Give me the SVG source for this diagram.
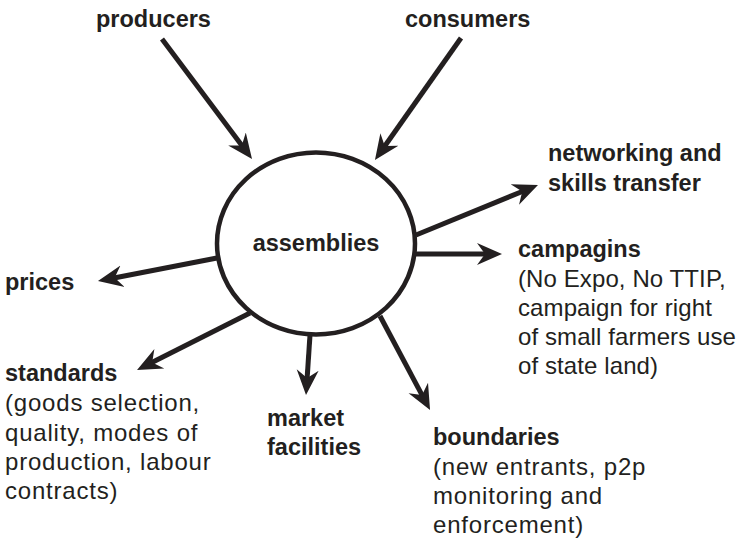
<svg xmlns="http://www.w3.org/2000/svg" width="746" height="539" viewBox="0 0 746 539">
<style>
text{font-family:"Liberation Sans",Arial,sans-serif;fill:#231f20}
.b{font-weight:bold;font-size:23.5px}
.r{font-size:24px;letter-spacing:0.8px}
.rt{letter-spacing:0.1px}
.ln{stroke:#231f20;stroke-width:5;fill:none;marker-end:url(#ah)}
</style>
<defs>
<marker id="ah" markerUnits="userSpaceOnUse" markerWidth="30" markerHeight="26" viewBox="0 -13 30 26" refX="10" refY="0" orient="auto">
<path d="M0,-11 L25,0 L0,11 L8,0 Z" fill="#231f20"/>
</marker>
</defs>
<rect width="746" height="539" fill="#fff"/>
<g id="connectors">
<line class="ln" x1="162" y1="39" x2="243" y2="147"/>
<line class="ln" x1="461" y1="38" x2="383.6" y2="147.7"/>
<line class="ln" x1="416" y1="235" x2="524.1" y2="190.7"/>
<line class="ln" x1="415" y1="254" x2="487" y2="254"/>
<line class="ln" x1="217" y1="258" x2="112.7" y2="278.2"/>
<line class="ln" x1="250" y1="313" x2="150.4" y2="363.3"/>
<line class="ln" x1="310" y1="335" x2="307" y2="380"/>
<line class="ln" x1="380" y1="316" x2="423" y2="396.8"/>
</g>
<g id="assemblies">
<ellipse cx="316" cy="243.5" rx="99" ry="91" fill="#fff" stroke="#231f20" stroke-width="4.5"/>
<text class="b" x="316" y="251" text-anchor="middle">assemblies</text>
</g>
<g id="producers"><text class="b" x="96" y="27">producers</text></g>
<g id="consumers"><text class="b" x="405" y="27">consumers</text></g>
<g id="networking">
<text class="b" x="548" y="161">networking and</text>
<text class="b" x="548" y="191">skills transfer</text>
</g>
<g id="campaigns">
<text class="b" x="518" y="257">campagins</text>
<text class="r rt" x="518" y="287">(No Expo, No TTIP,</text>
<text class="r rt" x="518" y="316">campaign for right</text>
<text class="r rt" x="518" y="345">of small farmers use</text>
<text class="r rt" x="518" y="374">of state land)</text>
</g>
<g id="prices"><text class="b" x="5" y="290">prices</text></g>
<g id="standards">
<text class="b" x="5" y="381">standards</text>
<text class="r" x="5" y="411">(goods selection,</text>
<text class="r" x="5" y="441">quality, modes of</text>
<text class="r" x="5" y="470">production, labour</text>
<text class="r" x="5" y="499">contracts)</text>
</g>
<g id="market">
<text class="b" x="267" y="426">market</text>
<text class="b" x="267" y="455">facilities</text>
</g>
<g id="boundaries">
<text class="b" x="433" y="445">boundaries</text>
<text class="r" x="433" y="475">(new entrants, p2p</text>
<text class="r" x="433" y="504">monitoring and</text>
<text class="r" x="433" y="533">enforcement)</text>
</g>
</svg>
